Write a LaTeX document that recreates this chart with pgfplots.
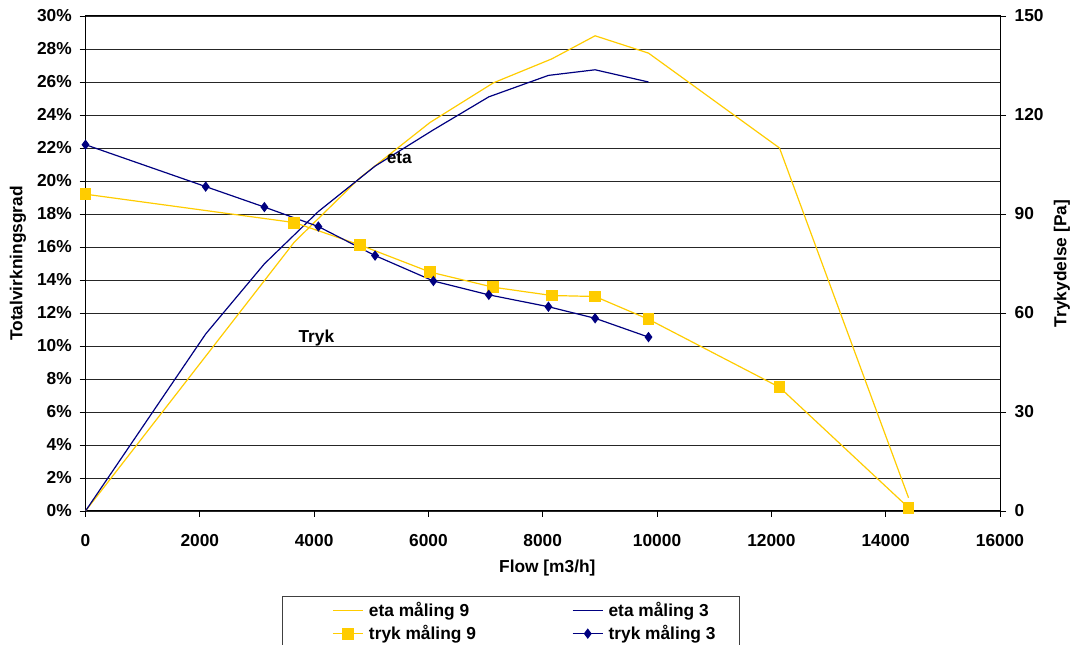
\documentclass[border=0pt]{standalone}
\usepackage{fontspec}
\setmainfont{Liberation Sans}
\usepackage{pgfplots}
\pgfplotsset{compat=1.18}
\definecolor{etayellow}{RGB}{255,204,0}
\definecolor{navyblue}{RGB}{0,0,128}
\newcommand\ff{\fontsize{13}{15.6}\selectfont\bfseries}
\begin{document}
\begin{tikzpicture}[font=\ff]
\pgfplotsset{
  common/.style={
    scale only axis, width=685.875pt, height=371.25pt,
    at={(0,0)}, anchor=south west,
    xmin=0, xmax=16000,
    tick align=outside, major tick length=4.5pt,
    every tick/.style={black, line width=0.6pt},
    axis line style={black, line width=0.75pt},
    tick label style={font=\ff},
    label style={font=\ff},
    /pgf/number format/assume math mode=true,
    /pgf/number format/set thousands separator={},
    scaled ticks=false,
  }
}
\begin{axis}[common,
  ymin=0, ymax=30,
  xtick={0,2000,...,16000}, ytick={0,2,...,30},
  xtick pos=lower, ytick pos=left,
  ymajorgrids, grid style={black!85, line width=0.7pt},
  yticklabel={\pgfmathprintnumber{\tick}\%},
  xticklabel style={yshift=-9.5pt},
  yticklabel style={xshift=-2.25pt},
  xlabel={Flow [m3/h]}, ylabel={Totalvirkningsgrad},
  every axis x label/.style={at={(axis description cs:0.505,-0.115)}, anchor=center},
  every axis y label/.style={at={(axis description cs:-0.0738,0.5)}, rotate=90, anchor=center},
]
\addplot[etayellow, line width=0.9pt] coordinates {
 (0,0) (3654,16.3) (4804,20.2) (6029,23.55) (7137,25.95) (8158,27.4) (8916,28.8) (9850,27.75) (12142,22.0) (14400,0.8)};
\addplot[navyblue, line width=0.9pt] coordinates {
 (0,0) (2103,10.73) (3130,14.98) (4074,18.15) (5066,20.9) (6087,23.1) (7056,25.1) (8099,26.4) (8916,26.74) (9850,26.0)};
\node[font=\ff] at (axis cs:5490,21.4) {eta};
\node[font=\ff] at (axis cs:4040,10.5) {Tryk};
\end{axis}
\begin{axis}[common,
  ymin=0, ymax=150, clip=false,
  axis x line=none, axis y line*=right,
  ytick={0,30,...,150}, ytick pos=right,
  tick align=outside,
  yticklabel style={xshift=3pt},
  ylabel={Trykydelse [Pa]},
  every axis y label/.style={at={(axis description cs:1.0678,0.5)}, rotate=90, anchor=center},
  legend columns=2,
  legend cell align=left,
  legend image code/.code={\draw[mark repeat=2,mark phase=2] plot coordinates {(0cm,0cm) (0.4cm,0cm) (0.8cm,0cm)};},
  legend style={at={(axis description cs:0,0)}, anchor=north west, xshift=184.9pt, yshift=-67.5pt,
    draw=none, fill=none, font=\ff, inner sep=0pt, row sep=3pt,
    nodes={inner xsep=0pt, inner ysep=1pt},
    /tikz/every odd column/.append style={column sep=3.75pt},
    /tikz/every even column/.append style={column sep=72pt}},
]
\addlegendimage{etayellow, line width=1pt}
\addlegendentry{eta måling 9}
\addlegendimage{navyblue, line width=1pt}
\addlegendentry{eta måling 3}
\addplot[etayellow, line width=0.9pt, mark=square*, mark size=4pt, mark options={fill=etayellow, draw=etayellow}] coordinates {
 (0,96.0) (3654,87.4) (4804,80.6) (6029,72.4) (7137,67.8) (8158,65.3) (8916,65.0) (9850,58.1) (12142,37.5) (14400,1.0)};
\addlegendentry{tryk måling 9}
\addplot[navyblue, line width=0.9pt, mark=diamond*, mark size=3.2pt, mark options={fill=navyblue, draw=navyblue}] coordinates {
 (0,111.0) (2103,98.3) (3130,92.1) (4074,86.2) (5066,77.4) (6087,69.7) (7056,65.5) (8099,61.9) (8916,58.4) (9850,52.7)};
\addlegendentry{tryk måling 3}
\end{axis}
\draw[black!75, line width=0.75pt] (147.375pt,-110pt) |- (490.125pt,-64.5pt) -- (490.125pt,-110pt);
\pgfresetboundingbox
\path[use as bounding box] (-64.125pt,-100.5pt) rectangle (741.375pt,383.25pt);
\end{tikzpicture}
\end{document}
